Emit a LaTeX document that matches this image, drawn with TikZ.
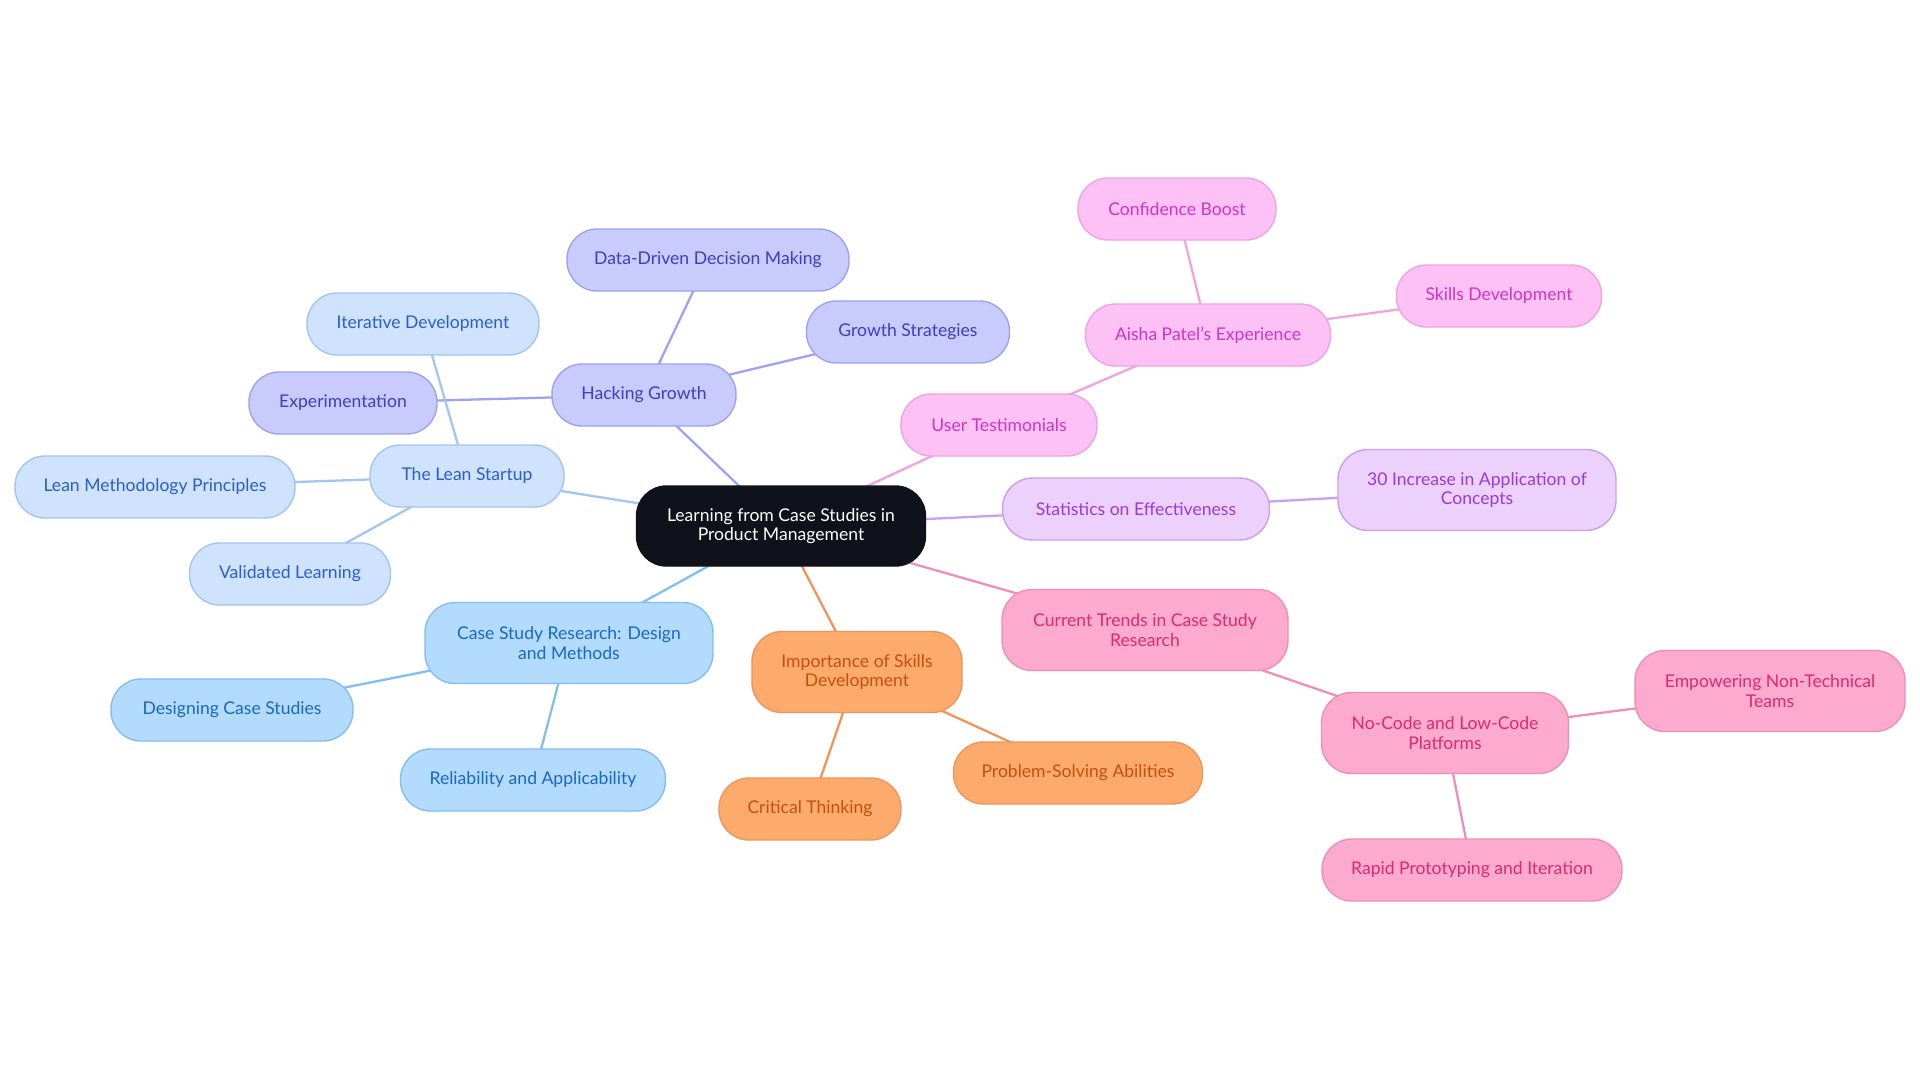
\documentclass[tikz,border=0pt]{standalone}
\usepackage{fontspec}
\setmainfont{Lato}
\usetikzlibrary{backgrounds}

% Branch colours
\definecolor{hubfill}{HTML}{0F121A}
\definecolor{hackfill}{HTML}{C8CBFB}
\definecolor{hackline}{HTML}{9EA3EF}
\definecolor{hacktext}{HTML}{3B3FC0}
\definecolor{leanfill}{HTML}{CFE2FE}
\definecolor{leanline}{HTML}{A4C4F2}
\definecolor{leantext}{HTML}{2B5FC7}
\definecolor{casefill}{HTML}{B3DBFD}
\definecolor{caseline}{HTML}{82BEF0}
\definecolor{casetext}{HTML}{1A68C0}
\definecolor{skillfill}{HTML}{FDAA6D}
\definecolor{skillline}{HTML}{EF955A}
\definecolor{skilltext}{HTML}{C4500E}
\definecolor{trendfill}{HTML}{FDAACF}
\definecolor{trendline}{HTML}{EE8FB8}
\definecolor{trendtext}{HTML}{DA2A70}
\definecolor{statfill}{HTML}{ECD1FD}
\definecolor{statline}{HTML}{CC9EF0}
\definecolor{stattext}{HTML}{9A3AD6}
\definecolor{userfill}{HTML}{FDC1F5}
\definecolor{userline}{HTML}{EEA3E3}
\definecolor{usertext}{HTML}{CC36C0}

\begin{document}
\begin{tikzpicture}[x=0.02cm, y=-0.02cm, every node/.style={font=\fontsize{10}{11}\selectfont, align=center}]
    % Parameters
    \def\oneline{1.24cm}
    \def\twoline{1.62cm}
    \tikzset{
        box/.style={rounded corners=0.6cm, inner sep=0pt, line width=0.8pt, minimum height=\oneline},
        hack/.style={box, fill=hackfill, draw=hackline, text=hacktext},
        lean/.style={box, fill=leanfill, draw=leanline, text=leantext},
        case/.style={box, fill=casefill, draw=caseline, text=casetext},
        skill/.style={box, fill=skillfill, draw=skillline, text=skilltext},
        trend/.style={box, fill=trendfill, draw=trendline, text=trendtext},
        stat/.style={box, fill=statfill, draw=statline, text=stattext},
        user/.style={box, fill=userfill, draw=userline, text=usertext},
        link/.style={line width=1.3pt}
    }

    % Canvas
    \useasboundingbox (0,0) rectangle (1920,1083);

    % Central topic
    \node[box, fill=hubfill, draw=hubfill, text=white, minimum width=5.78cm, minimum height=1.6cm] (hub) at (781,526) {Learning from Case Studies in\\Product Management};

    % Hacking Growth branch
    \node[hack, minimum width=3.68cm] (hack) at (644,395) {Hacking Growth};
    \node[hack, minimum width=5.64cm] (data) at (708,260) {Data-Driven Decision Making};
    \node[hack, minimum width=4.06cm] (growth) at (908,332) {Growth Strategies};
    \node[hack, minimum width=3.76cm] (exper) at (343,403) {Experimentation};

    % The Lean Startup branch
    \node[lean, minimum width=3.88cm] (lean) at (467,476) {The Lean Startup};
    \node[lean, minimum width=4.64cm] (iter) at (423,324) {Iterative Development};
    \node[lean, minimum width=5.6cm] (leanmeth) at (155,487) {Lean Methodology Principles};
    \node[lean, minimum width=4.02cm] (valid) at (290,574) {Validated Learning};

    % Case study research branch
    \node[case, minimum width=5.76cm, minimum height=\twoline] (csr) at (569,643) {Case Study Research: Design\\and Methods};
    \node[case, minimum width=4.84cm] (design) at (232,710) {Designing Case Studies};
    \node[case, minimum width=5.3cm] (reli) at (533,780) {Reliability and Applicability};

    % Skills branch
    \node[skill, minimum width=4.2cm, minimum height=\twoline] (skills) at (857,672) {Importance of Skills\\Development};
    \node[skill, minimum width=3.64cm] (critical) at (810,809) {Critical Thinking};
    \node[skill, minimum width=4.98cm] (problem) at (1078,773) {Problem-Solving Abilities};

    % Current trends branch
    \node[trend, minimum width=5.72cm, minimum height=\twoline] (trends) at (1145,630) {Current Trends in Case Study\\Research};
    \node[trend, minimum width=4.94cm, minimum height=\twoline] (nocode) at (1445,733) {No-Code and Low-Code\\Platforms};
    \node[trend, minimum width=5.4cm, minimum height=\twoline] (empower) at (1770,691) {Empowering Non-Technical\\Teams};
    \node[trend, minimum width=6cm] (rapid) at (1472,870) {Rapid Prototyping and Iteration};

    % Statistics branch
    \node[stat, minimum width=5.34cm] (stats) at (1136,509) {Statistics on Effectiveness};
    \node[stat, minimum width=5.56cm, minimum height=\twoline] (increase) at (1477,490) {30 Increase in Application of\\Concepts};

    % Testimonials branch
    \node[user, minimum width=3.92cm] (testim) at (999,425) {User Testimonials};
    \node[user, minimum width=4.9cm] (aisha) at (1208,335) {Aisha Patel's Experience};
    \node[user, minimum width=3.96cm] (confid) at (1177,209) {Confidence Boost};
    \node[user, minimum width=4.1cm] (skilldev) at (1499,296) {Skills Development};

    % Connectors
    \begin{scope}[on background layer]
        \fill[white] (0,0) rectangle (1920,1083);
        \foreach \a/\b/\c in {hub/hack/hackline, hack/data/hackline, hack/growth/hackline, hack/exper/hackline,
                              hub/lean/leanline, lean/iter/leanline, lean/leanmeth/leanline, lean/valid/leanline,
                              hub/csr/caseline, csr/design/caseline, csr/reli/caseline,
                              hub/skills/skillline, skills/critical/skillline, skills/problem/skillline,
                              hub/trends/trendline, trends/nocode/trendline, nocode/empower/trendline, nocode/rapid/trendline,
                              hub/stats/statline, stats/increase/statline,
                              hub/testim/userline, testim/aisha/userline, aisha/confid/userline, aisha/skilldev/userline} {
                \draw[link, \c] (\a.center) -- (\b.center);
            }
    \end{scope}
\end{tikzpicture}
\end{document}
